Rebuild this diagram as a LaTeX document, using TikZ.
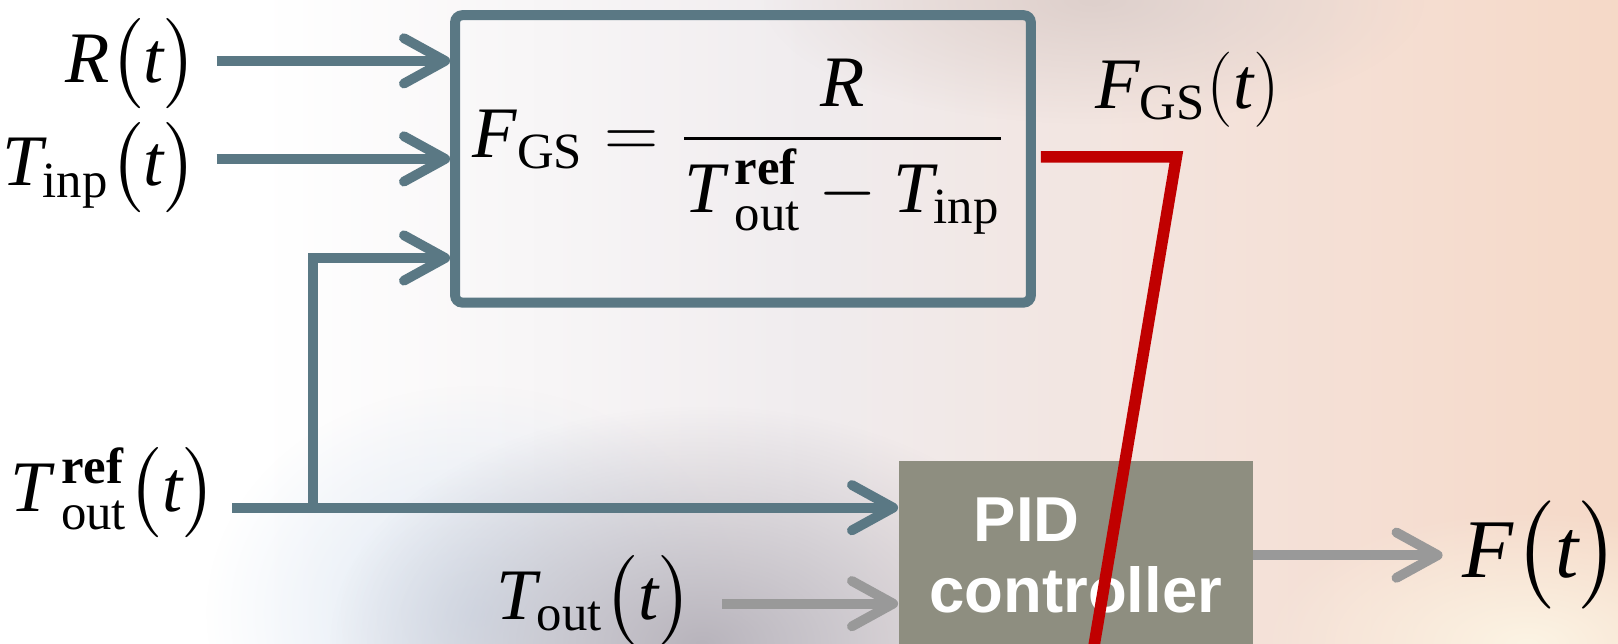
\documentclass[tikz,border=0pt]{standalone}
\usepackage{amsmath}
\usepackage{fontspec}
\setmainfont{Liberation Serif}
\newfontfamily\pidfont{Liberation Sans}
\usetikzlibrary{arrows.meta,positioning,calc,fadings}
\definecolor{cSlate}{RGB}{90,120,132}
\definecolor{cGrayArr}{RGB}{153,153,153}
\definecolor{cPid}{RGB}{142,142,128}
\definecolor{cRed}{RGB}{192,0,0}
\definecolor{cMist}{RGB}{240,236,238}
\definecolor{cBlush}{RGB}{245,222,210}
\definecolor{cSand}{RGB}{245,208,182}
\definecolor{cPeach}{RGB}{236,184,146}
\definecolor{cSmoke}{RGB}{184,180,188}
\definecolor{cIce}{RGB}{222,232,244}
\definecolor{cCream}{RGB}{252,244,228}
\definecolor{cDusk}{RGB}{222,208,204}
\pgfdeclarehorizontalshading{warmbg}{100bp}{color(0bp)=(white);color(33bp)=(white);
  color(50bp)=(cMist);color(68bp)=(cBlush);color(86bp)=(cSand);color(100bp)=(cPeach)}
\tikzfading[name=softspot,inner color=transparent!0,outer color=transparent!100]
\newcommand{\tvar}[1]{{\mathit{#1}\mkern2.5mu}}
\tikzset{
  lbl/.style={inner sep=0pt,font=\fontsize{20}{24}\selectfont},
  biglbl/.style={inner sep=0pt,font=\fontsize{23}{27}\selectfont},
  gsbox/.style={draw=cSlate,line width=2.75pt,rounded corners=2pt,
                minimum width=5.58cm,minimum height=2.785cm},
  pidbox/.style={fill=cPid,minimum width=3.43cm,minimum height=1.82cm,
                 align=center,text=white,
                 font=\pidfont\bfseries\fontsize{17.5}{19.5}\selectfont},
  sline/.style={line width=2.7pt,draw=cSlate},
  sarr/.style={sline,-{Straight Barb[length=0.40cm,width=0.44cm,round]}},
  garr/.style={sarr,draw=cGrayArr},
  redline/.style={line width=3.2pt,draw=cRed}
}
\begin{document}
\begin{tikzpicture}
  \useasboundingbox (0,0) rectangle (15.68,6.24);
  \shade[shading=warmbg] (0,0) rectangle (15.68,6.24);
  \fill[cDusk,path fading=softspot] (10.6,6.24) ellipse (3.2 and 1.2);
  \fill[cIce,path fading=softspot] (4.6,0.3) ellipse (2.6 and 2.2);
  \fill[cSmoke,path fading=softspot] (6.8,0) ellipse (3.6 and 2.3);
  \fill[cCream,path fading=softspot] (14.8,0) ellipse (2.6 and 1.3);

  \node[gsbox] (gs) at (7.20,4.70) {};
  \node[lbl] (eq) at ([xshift=-0.04cm,yshift=0.12cm]gs.center)
      {$\mathit{F}_{\mathrm{GS}}=\dfrac{\mathit{R}}{\tvar{T}^{\mathbf{ref}}_{\mathrm{out}}-\mathit{T}_{\mathrm{inp}}}$};
  \coordinate (gsR) at ([yshift=0.95cm]gs.west);
  \coordinate (gsRef) at ([yshift=-0.96cm]gs.west);

  \node[lbl,anchor=east] (lR) at (1.93,5.62) {$\mathit{R}\bigl(\mathit{t}\bigr)$};
  \node[lbl,anchor=east] (lTinp) at (1.93,4.62) {$\mathit{T}_{\mathrm{inp}}\bigl(\mathit{t}\bigr)$};
  \node[lbl,anchor=east] (lTref) at (2.11,1.47) {$\tvar{T}^{\mathbf{ref}}_{\mathrm{out}}\bigl(\mathit{t}\bigr)$};
  \node[lbl,anchor=east] (lTout) at (6.72,0.42) {$\mathit{T}_{\mathrm{out}}\bigl(\mathit{t}\bigr)$};
  \node[pidbox] (pid) at (10.425,0.86) {PID\hspace*{0.95cm}\\controller};
  \node[biglbl,anchor=west] (lF) at (14.17,0.86) {$\mathit{F}\bigl(\mathit{t}\bigr)$};
  \node[lbl] (lFgs) at (11.51,5.37) {$\mathit{F}_{\mathrm{GS}}(\mathit{t})$};

  \coordinate (refIn) at (2.25,1.32);
  \coordinate (refSplit) at (3.03,1.32);
  \coordinate (toutIn) at (7.00,0.39);
  \coordinate (gsBend) at (11.40,4.72);
  \coordinate (gsEnd) at (10.58,-0.15);

  \draw[sarr] ([xshift=0.17cm]lR.east |- gsR) -- (gsR);
  \draw[sarr] ([xshift=0.17cm]lTinp.east |- gs.west) -- (gs.west);
  \draw[sarr] (refSplit) |- (gsRef);
  \draw[sarr] (refIn) -- (refIn -| pid.west);
  \draw[garr] (toutIn) -- (toutIn -| pid.west);
  \draw[garr,shorten >=0.19cm] (pid.east) -- (lF.west);
  \draw[redline] ([xshift=1.4pt]gs.east |- gsBend) -- (gsBend) -- (gsEnd);
\end{tikzpicture}
\end{document}
